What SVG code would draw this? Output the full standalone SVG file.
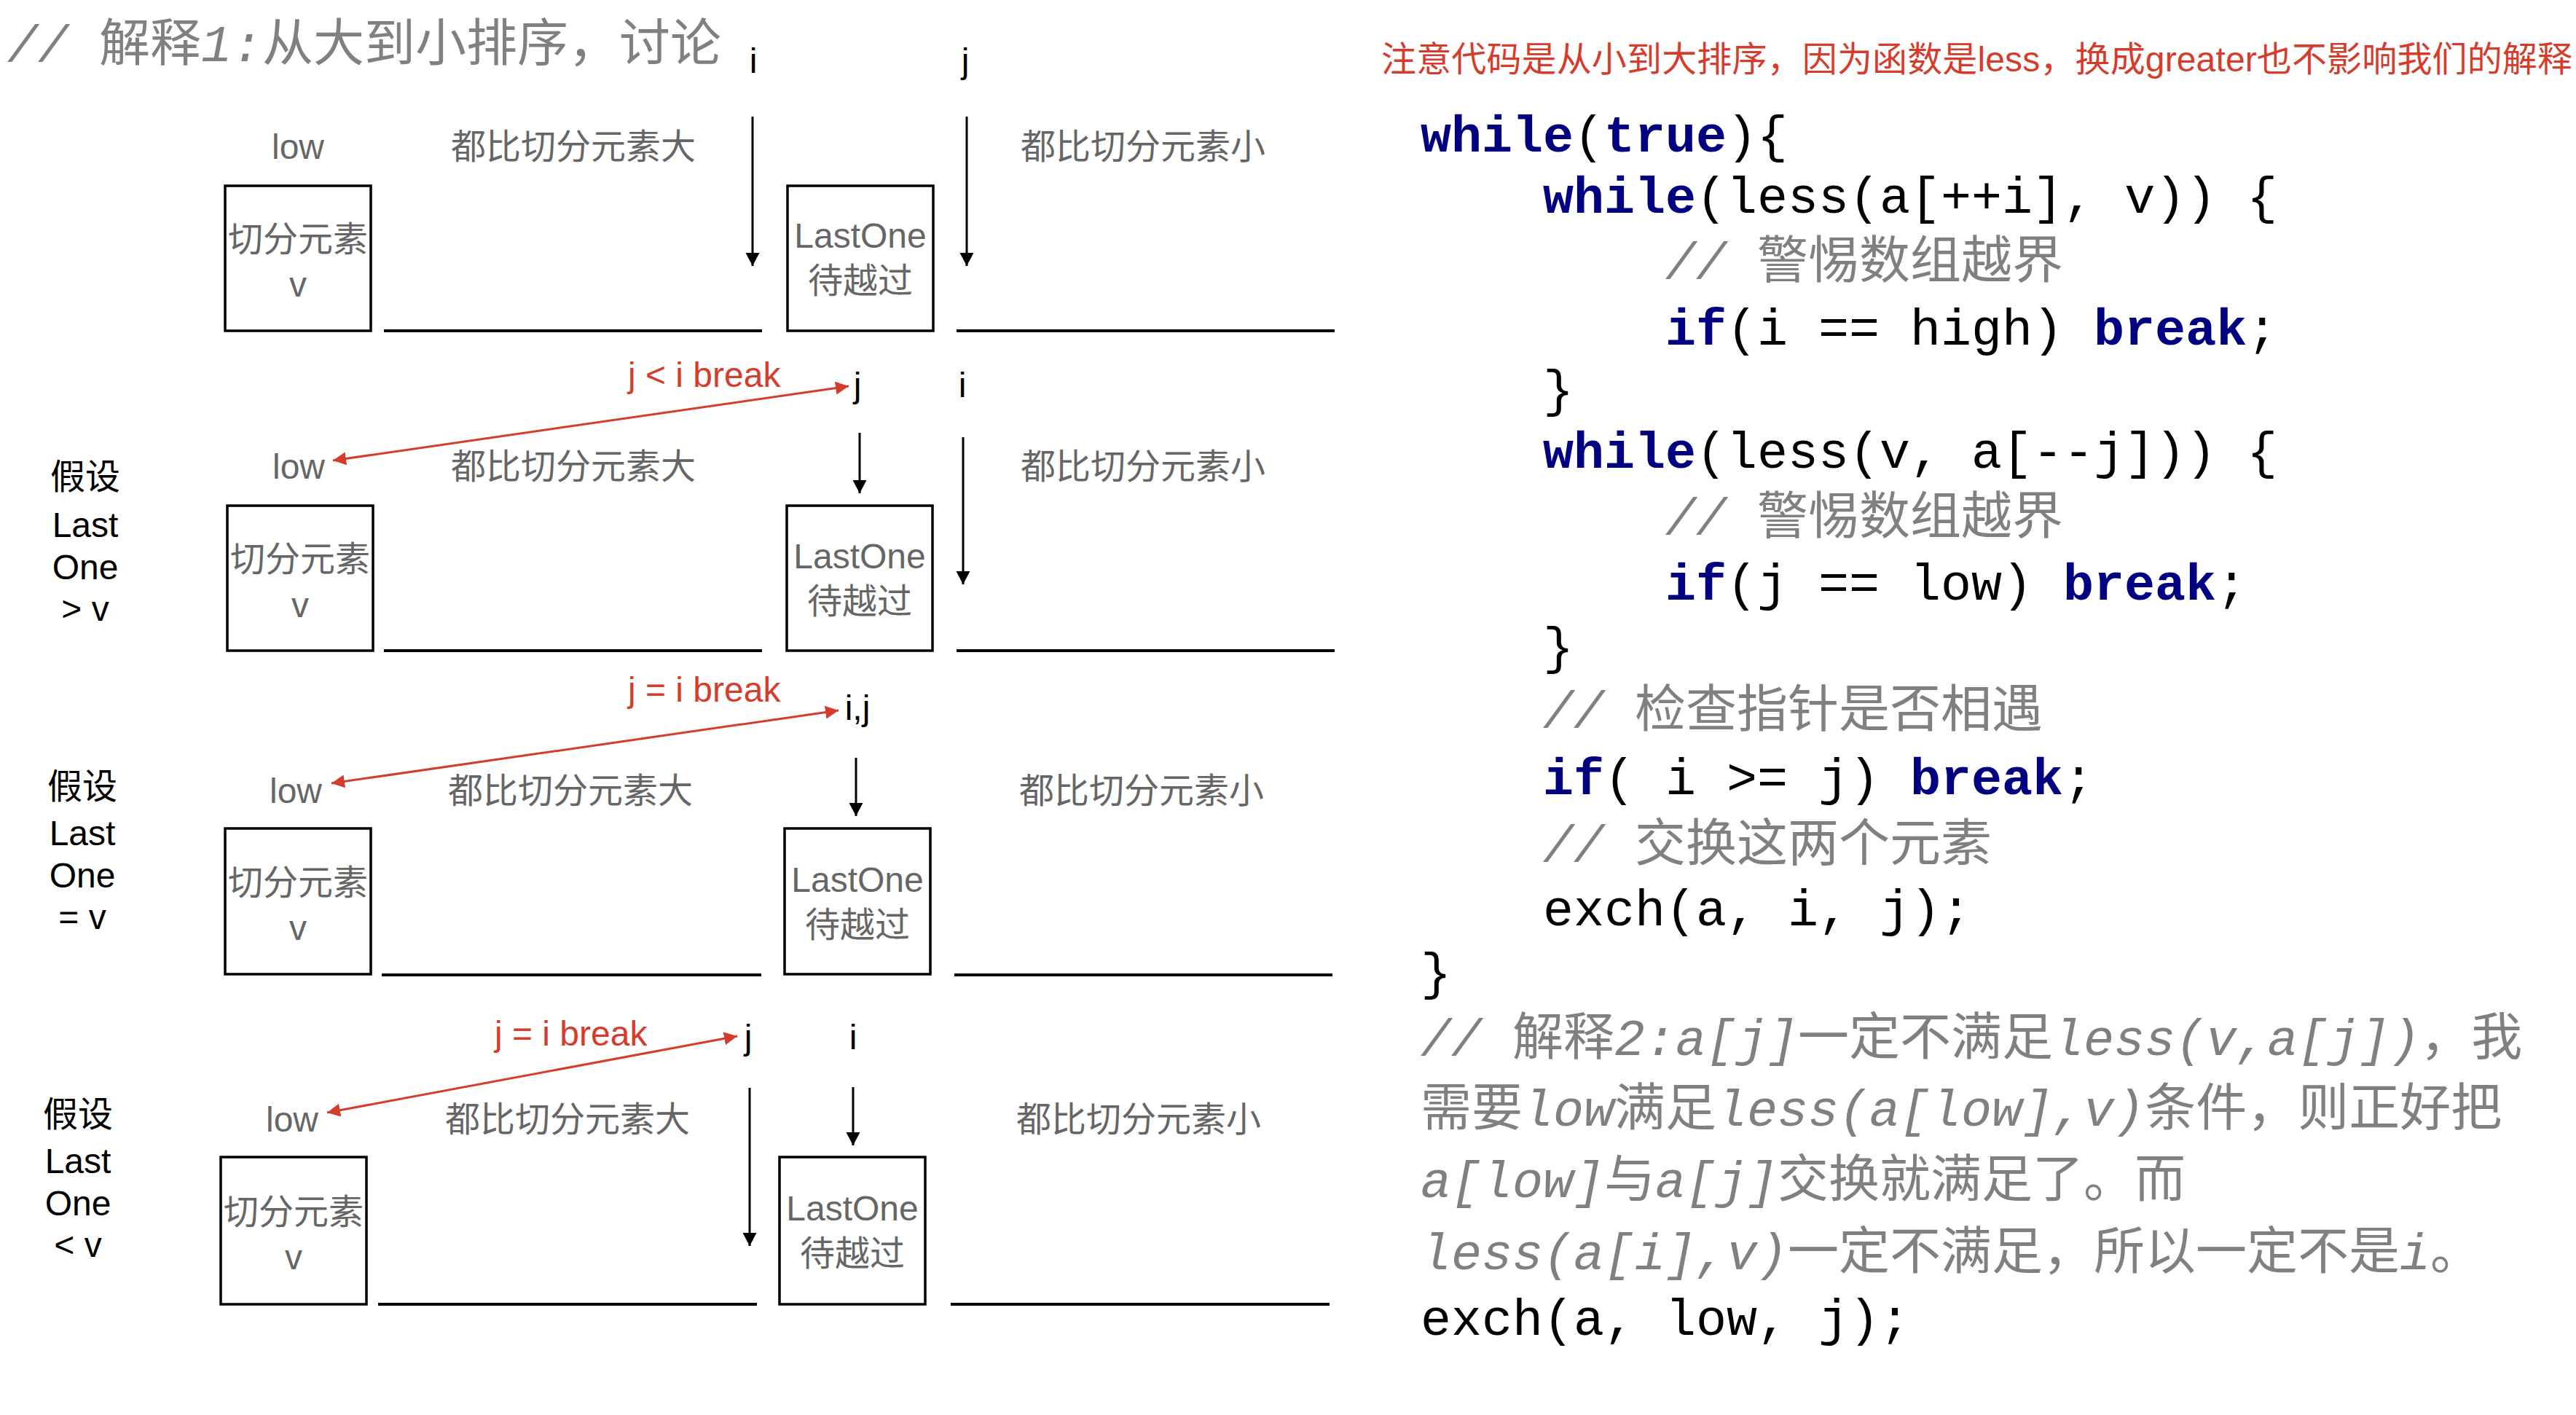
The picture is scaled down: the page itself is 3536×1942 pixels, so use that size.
<svg xmlns="http://www.w3.org/2000/svg" width="3536" height="1942" viewBox="0 0 3536 1942">
<style>
.code{font-family:"Liberation Mono","Noto Sans CJK SC",monospace;font-size:70px;fill:#000}
.kw{font-weight:bold;fill:#000080}
.cm{fill:#808080}
.it{font-style:italic}
.lbl{font-family:"Liberation Sans","Noto Sans CJK SC",sans-serif;font-size:48px}
.g{fill:#666666}
.k{fill:#000}
.red{fill:#d63c2c}
.mid{text-anchor:middle}
.box{fill:none;stroke:#000;stroke-width:3.5}
.floor{stroke:#000;stroke-width:4}
.arr{stroke:#000;stroke-width:3;fill:none}
.rarr{stroke:#d63c2c;stroke-width:3;fill:none}
</style>
<defs>
<marker id="ah" markerUnits="userSpaceOnUse" markerWidth="20" markerHeight="20" refX="18" refY="9.5" orient="auto"><path d="M0,0 L18,9.5 L0,19 z" fill="#000"/></marker>
<marker id="rh" markerUnits="userSpaceOnUse" markerWidth="20" markerHeight="20" refX="18" refY="9" orient="auto-start-reverse"><path d="M0,0 L18,9 L0,18 z" fill="#d63c2c"/></marker>
</defs>
<rect width="3536" height="1942" fill="#fff"/>

<g id="title"><text class="code cm" x="10" y="84"><tspan class="it">// </tspan>解释<tspan class="it">1:</tspan>从大到小排序，讨论</text></g>
<g id="note"><text class="lbl red" x="1896" y="98" textLength="1635">注意代码是从小到大排序，因为函数是less，换成greater也不影响我们的解释</text></g>

<g id="code">
<text class="code" x="1950" y="208"><tspan class="kw">while</tspan>(<tspan class="kw">true</tspan>){</text>
<text class="code" x="2118" y="292"><tspan class="kw">while</tspan>(less(a[++i], v)) {</text>
<text class="code cm" x="2286" y="382"><tspan class="it">// </tspan>警惕数组越界</text>
<text class="code" x="2286" y="473"><tspan class="kw">if</tspan>(i == high) <tspan class="kw">break</tspan>;</text>
<text class="code" x="2118" y="557">}</text>
<text class="code" x="2118" y="642"><tspan class="kw">while</tspan>(less(v, a[--j])) {</text>
<text class="code cm" x="2286" y="733"><tspan class="it">// </tspan>警惕数组越界</text>
<text class="code" x="2286" y="823"><tspan class="kw">if</tspan>(j == low) <tspan class="kw">break</tspan>;</text>
<text class="code" x="2118" y="910">}</text>
<text class="code cm" x="2118" y="998"><tspan class="it">// </tspan>检查指针是否相遇</text>
<text class="code" x="2118" y="1090"><tspan class="kw">if</tspan>( i &gt;= j) <tspan class="kw">break</tspan>;</text>
<text class="code cm" x="2118" y="1182"><tspan class="it">// </tspan>交换这两个元素</text>
<text class="code" x="2118" y="1270">exch(a, i, j);</text>
<text class="code" x="1950" y="1357">}</text>
<text class="code cm" x="1950" y="1448"><tspan class="it">// </tspan>解释<tspan class="it">2:a[j]</tspan>一定不满足<tspan class="it">less(v,a[j])</tspan>，我</text>
<text class="code cm" x="1950" y="1545">需要<tspan class="it">low</tspan>满足<tspan class="it">less(a[low],v)</tspan>条件，则正好把</text>
<text class="code cm" x="1950" y="1643"><tspan class="it">a[low]</tspan>与<tspan class="it">a[j]</tspan>交换就满足了。而</text>
<text class="code cm" x="1950" y="1742"><tspan class="it">less(a[i],v)</tspan>一定不满足，所以一定不是<tspan class="it">i</tspan>。</text>
<text class="code" x="1950" y="1832">exch(a, low, j);</text>
</g>

<!-- Row 1 -->
<g id="r1-pivot"><rect class="box" x="309" y="255" width="200" height="199"/><text class="lbl g mid" x="409" y="345">切分元素</text><text class="lbl g mid" x="409" y="407">v</text></g>
<g id="r1-lastone"><rect class="box" x="1081" y="255" width="200" height="199"/><text class="lbl g mid" x="1181" y="340">LastOne</text><text class="lbl g mid" x="1181" y="402">待越过</text></g>
<g id="r1-labels">
<text class="lbl g mid" x="409" y="218">low</text>
<text class="lbl g mid" x="787" y="218">都比切分元素大</text>
<text class="lbl g mid" x="1569" y="218">都比切分元素小</text>
<text class="lbl k mid" x="1034" y="100">i</text>
<text class="lbl k mid" x="1325" y="100">j</text>
<line class="floor" x1="527" y1="454" x2="1046" y2="454"/>
<line class="floor" x1="1313" y1="454" x2="1832" y2="454"/>
</g>

<!-- Row 2 -->
<g id="r2-case"><text class="lbl k mid" x="117" y="671">假设</text><text class="lbl k mid" x="117" y="737">Last</text><text class="lbl k mid" x="117" y="795">One</text><text class="lbl k mid" x="117" y="852">&gt; v</text></g>
<g id="r2-pivot"><rect class="box" x="312" y="694" width="200" height="199"/><text class="lbl g mid" x="412" y="784">切分元素</text><text class="lbl g mid" x="412" y="847">v</text></g>
<g id="r2-lastone"><rect class="box" x="1080" y="694" width="200" height="199"/><text class="lbl g mid" x="1180" y="780">LastOne</text><text class="lbl g mid" x="1180" y="842">待越过</text></g>
<g id="r2-labels">
<text class="lbl g mid" x="410" y="657">low</text>
<text class="lbl g mid" x="787" y="657">都比切分元素大</text>
<text class="lbl g mid" x="1569" y="657">都比切分元素小</text>
<text class="lbl k mid" x="1177" y="545">j</text>
<text class="lbl k mid" x="1321" y="545">i</text>
<text class="lbl red" x="862" y="531">j &lt; i break</text>
<line class="floor" x1="527" y1="893" x2="1046" y2="893"/>
<line class="floor" x1="1313" y1="893" x2="1832" y2="893"/>
</g>

<!-- Row 3 -->
<g id="r3-case"><text class="lbl k mid" x="113" y="1096">假设</text><text class="lbl k mid" x="113" y="1160">Last</text><text class="lbl k mid" x="113" y="1218">One</text><text class="lbl k mid" x="113" y="1275">= v</text></g>
<g id="r3-pivot"><rect class="box" x="309" y="1137" width="200" height="200"/><text class="lbl g mid" x="409" y="1228">切分元素</text><text class="lbl g mid" x="409" y="1290">v</text></g>
<g id="r3-lastone"><rect class="box" x="1077" y="1137" width="200" height="200"/><text class="lbl g mid" x="1177" y="1224">LastOne</text><text class="lbl g mid" x="1177" y="1286">待越过</text></g>
<g id="r3-labels">
<text class="lbl g mid" x="406" y="1102">low</text>
<text class="lbl g mid" x="783" y="1102">都比切分元素大</text>
<text class="lbl g mid" x="1567" y="1102">都比切分元素小</text>
<text class="lbl k mid" x="1177" y="988">i,j</text>
<text class="lbl red" x="862" y="963">j = i break</text>
<line class="floor" x1="524" y1="1338" x2="1045" y2="1338"/>
<line class="floor" x1="1310" y1="1338" x2="1829" y2="1338"/>
</g>

<!-- Row 4 -->
<g id="r4-case"><text class="lbl k mid" x="107" y="1546">假设</text><text class="lbl k mid" x="107" y="1610">Last</text><text class="lbl k mid" x="107" y="1668">One</text><text class="lbl k mid" x="107" y="1725">&lt; v</text></g>
<g id="r4-pivot"><rect class="box" x="303" y="1588" width="200" height="202"/><text class="lbl g mid" x="403" y="1680">切分元素</text><text class="lbl g mid" x="403" y="1742">v</text></g>
<g id="r4-lastone"><rect class="box" x="1070" y="1588" width="200" height="202"/><text class="lbl g mid" x="1170" y="1675">LastOne</text><text class="lbl g mid" x="1170" y="1737">待越过</text></g>
<g id="r4-labels">
<text class="lbl g mid" x="401" y="1553">low</text>
<text class="lbl g mid" x="779" y="1553">都比切分元素大</text>
<text class="lbl g mid" x="1563" y="1553">都比切分元素小</text>
<text class="lbl k mid" x="1027" y="1440">j</text>
<text class="lbl k mid" x="1171" y="1440">i</text>
<text class="lbl red" x="679" y="1435">j = i break</text>
<line class="floor" x1="519" y1="1790" x2="1039" y2="1790"/>
<line class="floor" x1="1305" y1="1790" x2="1825" y2="1790"/>
</g>

<g id="connectors">
<line class="arr" x1="1033" y1="160" x2="1033" y2="365" marker-end="url(#ah)"/>
<line class="arr" x1="1327" y1="160" x2="1327" y2="365" marker-end="url(#ah)"/>
<line class="rarr" x1="457" y1="632" x2="1165" y2="530" marker-start="url(#rh)" marker-end="url(#rh)"/>
<line class="arr" x1="1180" y1="594" x2="1180" y2="677" marker-end="url(#ah)"/>
<line class="arr" x1="1322" y1="600" x2="1322" y2="802" marker-end="url(#ah)"/>
<line class="rarr" x1="455" y1="1075" x2="1151" y2="975" marker-start="url(#rh)" marker-end="url(#rh)"/>
<line class="arr" x1="1175" y1="1040" x2="1175" y2="1120" marker-end="url(#ah)"/>
<line class="rarr" x1="449" y1="1527" x2="1012" y2="1422" marker-start="url(#rh)" marker-end="url(#rh)"/>
<line class="arr" x1="1029" y1="1493" x2="1029" y2="1710" marker-end="url(#ah)"/>
<line class="arr" x1="1171" y1="1492" x2="1171" y2="1572" marker-end="url(#ah)"/>
</g>
</svg>
